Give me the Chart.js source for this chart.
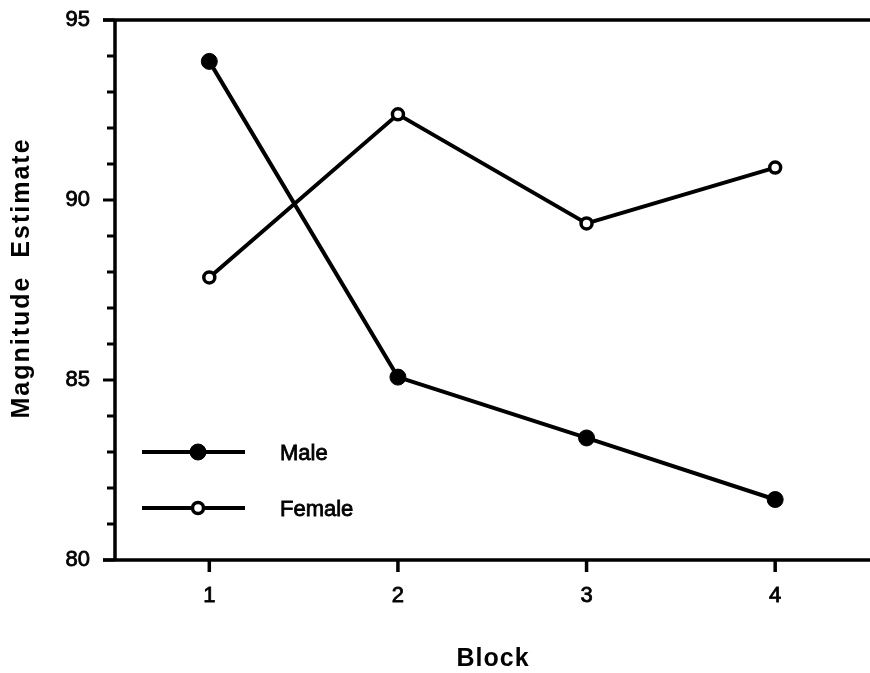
<!DOCTYPE html>
<html>
<head>
<meta charset="utf-8">
<script src="https://cdn.jsdelivr.net/npm/chart.js@4"></script>
<style>
  html, body { margin: 0; padding: 0; background: #fff; }
  #wrap { width: 870px; height: 673px; }
</style>
</head>
<body>
<div id="wrap"><canvas id="c" width="870" height="673"></canvas></div>
<script>
// Block numbers along the x axis
const blocks = [1, 2, 3, 4];
// Mean magnitude estimates per block
const maleValues = [93.85, 85.08, 83.39, 81.68];
const femaleValues = [87.85, 92.38, 89.35, 90.9];
// Labelled y ticks
const yTickLabels = [80, 85, 90, 95];
const seriesNames = ['Male', 'Female'];
const xTitle = 'Block';
const yTitle = 'Magnitude  Estimate';

const FONT = '"Liberation Sans", Arial, Helvetica, sans-serif';

const toPoints = vals => vals.map((v, i) => ({ x: blocks[i], y: v }));

// Axis frame, tick marks, legend and axis titles
const framePlugin = {
  id: 'frame',
  afterDraw(chart) {
    const ctx = chart.ctx;
    const a = chart.chartArea;
    const xs = chart.scales.x, ys = chart.scales.y;
    ctx.save();
    ctx.strokeStyle = '#000';
    ctx.lineCap = 'butt';
    ctx.lineWidth = 3.5;
    ctx.beginPath();
    // top rule
    ctx.moveTo(a.left - 12, a.top); ctx.lineTo(chart.width, a.top);
    // bottom rule
    ctx.moveTo(a.left - 12, a.bottom); ctx.lineTo(chart.width, a.bottom);
    // left axis
    ctx.moveTo(a.left, a.top); ctx.lineTo(a.left, a.bottom);
    ctx.stroke();

    // y tick marks, longer at labelled values
    ctx.lineWidth = 3;
    ctx.beginPath();
    for (let v = ys.min; v <= ys.max; v++) {
      const y = ys.getPixelForValue(v);
      const len = yTickLabels.includes(v) ? 12 : 8;
      ctx.moveTo(a.left - len, y); ctx.lineTo(a.left, y);
    }
    ctx.stroke();

    // x tick marks
    ctx.lineWidth = 3.5;
    ctx.beginPath();
    blocks.forEach(b => {
      const x = xs.getPixelForValue(b);
      ctx.moveTo(x, a.bottom); ctx.lineTo(x, a.bottom + 12);
    });
    ctx.stroke();

    // legend
    const legendRows = [452, 508];
    chart.data.datasets.forEach((ds, i) => {
      const y = legendRows[i];
      ctx.lineWidth = ds.borderWidth;
      ctx.strokeStyle = ds.borderColor;
      ctx.beginPath();
      ctx.moveTo(142, y); ctx.lineTo(245, y);
      ctx.stroke();
      ctx.beginPath();
      ctx.arc(198, y, ds.pointRadius, 0, Math.PI * 2);
      ctx.fillStyle = ds.pointBackgroundColor;
      ctx.fill();
      ctx.lineWidth = ds.pointBorderWidth;
      ctx.strokeStyle = ds.pointBorderColor;
      ctx.stroke();
      ctx.fillStyle = '#000';
      ctx.strokeStyle = '#000';
      ctx.lineWidth = 0.8;
      ctx.font = '22px ' + FONT;
      ctx.textAlign = 'left';
      ctx.textBaseline = 'middle';
      ctx.fillText(ds.label, 280, y + 2);
      ctx.strokeText(ds.label, 280, y + 2);
    });

    // axis titles
    ctx.fillStyle = '#000';
    ctx.font = 'bold 25px ' + FONT;
    ctx.letterSpacing = '1px';
    ctx.textAlign = 'center';
    ctx.textBaseline = 'middle';
    ctx.fillText(xTitle, 493, 659);

    ctx.save();
    ctx.translate(22, 278);
    ctx.rotate(-Math.PI / 2);
    ctx.font = 'bold 25px ' + FONT;
    ctx.letterSpacing = '2px';
    ctx.fillText(yTitle, 0, 0);
    ctx.restore();
    ctx.restore();
  }
};

const tickFont = { family: FONT, size: 22 };

new Chart(document.getElementById('c'), {
  type: 'line',
  data: {
    datasets: [
      {
        label: seriesNames[0],
        data: toPoints(maleValues),
        borderColor: '#000',
        borderWidth: 4,
        pointRadius: 8,
        pointBackgroundColor: '#000',
        pointBorderColor: '#000',
        pointBorderWidth: 1,
        tension: 0
      },
      {
        label: seriesNames[1],
        data: toPoints(femaleValues),
        borderColor: '#000',
        borderWidth: 4,
        pointRadius: 5.5,
        pointBackgroundColor: '#fff',
        pointBorderColor: '#000',
        pointBorderWidth: 3.5,
        tension: 0
      }
    ]
  },
  options: {
    responsive: false,
    animation: false,
    events: [],
    layout: { padding: { top: 20, right: 0, left: 0, bottom: 0 } },
    plugins: { legend: { display: false }, tooltip: { enabled: false } },
    scales: {
      x: {
        type: 'linear',
        min: 0.5,
        max: 4.455,
        afterBuildTicks: s => { s.ticks = blocks.map(v => ({ value: v })); },
        afterFit: s => { s.height = 113; s.paddingLeft = 0; s.paddingRight = 0; },
        grid: { display: false, drawTicks: false },
        border: { display: false },
        ticks: {
          color: '#000',
          font: tickFont,
          textStrokeColor: '#000',
          textStrokeWidth: 0.8,
          padding: 23,
          maxRotation: 0,
          autoSkip: false
        }
      },
      y: {
        min: 80,
        max: 95,
        afterBuildTicks: s => { s.ticks = yTickLabels.map(v => ({ value: v })); },
        afterFit: s => { s.width = 115; s.paddingTop = 0; s.paddingBottom = 0; },
        grid: { display: false, drawTicks: false },
        border: { display: false },
        ticks: {
          color: '#000',
          font: tickFont,
          textStrokeColor: '#000',
          textStrokeWidth: 0.8,
          padding: 25
        }
      }
    }
  },
  plugins: [framePlugin]
});
</script>
</body>
</html>
